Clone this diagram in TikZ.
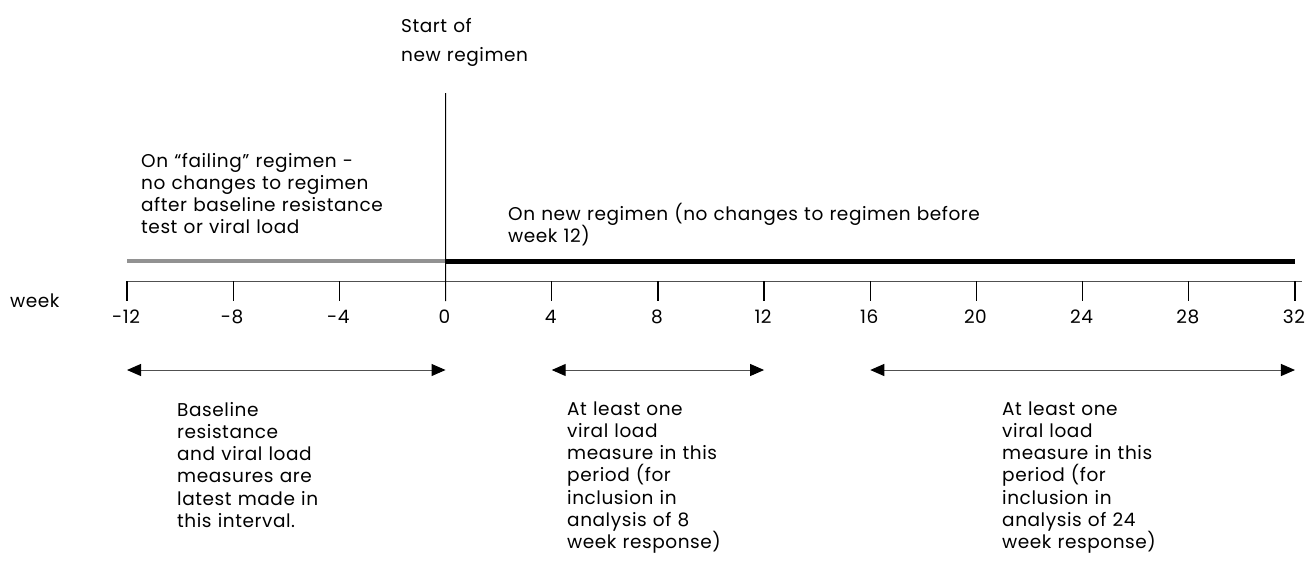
\documentclass[tikz,border=0pt]{standalone}
\usepackage{fontspec}
\setmainfont{Poppins}[LetterSpace=3]
\usetikzlibrary{arrows.meta}
\definecolor{bargray}{HTML}{929292}
\definecolor{axisgray}{HTML}{505050}
\begin{document}
\begin{tikzpicture}[x=1pt,y=-1pt,
  txt/.style={font=\fontsize{18.5}{22.3}\selectfont, inner sep=0pt, anchor=base west, align=left, text width=330pt},
  num/.style={font=\fontsize{18.5}{22.3}\selectfont, inner sep=0pt, anchor=base},
  tick/.style={line width=1.3pt, black},
  span/.style={line width=1pt, axisgray, {Triangle[length=14pt,width=12pt,fill=black,color=black]}-{Triangle[length=14pt,width=12pt,fill=black,color=black]}}
]
\useasboundingbox (0,0) rectangle (1308,560);
% tick coordinates
\foreach \w in {-12,-8,...,32} {
  \coordinate (t\w) at ({127+(\w+12)*26.545},281);
}
\coordinate (axisend) at (1302,281);
\coordinate (vtop) at (445.5,93);
% axis
\draw[line width=1pt, axisgray] (t-12) -- (axisend);
\foreach \w in {-12,-8,...,32} {
  \draw[tick] (t\w) -- ++(0,20);
  \node[num] (l\w) at ([shift={(-1,42)}]t\w) {\w};
}
% regimen bars
\draw[line width=4.5pt, bargray] ([shift={(0,-20)}]t-12) -- ([shift={(0,-20)}]t0);
\draw[line width=5pt, black] ([shift={(0,-20)}]t0) -- ([shift={(0,-20)}]t32);
% start line
\draw[line width=1pt, black] (vtop) -- ([shift={(0,20)}]t0);
% texts
\node[txt, text width=200pt, font=\fontsize{18.5}{29}\selectfont] (start) at (401,32) {Start of\\new regimen};
\node[txt] (failing) at (141,167) {On “failing” regimen -\\no changes to regimen\\after baseline resistance\\test or viral load};
\node[txt, text width=640pt] (newreg) at (508,220) {On new regimen (no changes to regimen before\\week 12)};
\node[font=\fontsize{18.5}{22.3}\selectfont, inner sep=0pt, anchor=base west] (week) at (10,307) {week};
% spans
\draw[span] ([shift={(0,89)}]t-12) -- ([shift={(0,89)}]t0);
\draw[span] ([shift={(0,89)}]t4) -- ([shift={(0,89)}]t12);
\draw[span] ([shift={(0,89)}]t16) -- ([shift={(0,89)}]t32);
\node[txt, text width=170pt] (base) at (177,416) {Baseline\\resistance\\and viral load\\measures are\\latest made in\\this interval.};
\node[txt, text width=170pt] (eight) at (567,415) {At least one\\viral load\\measure in this\\period (for\\inclusion in\\analysis of 8\\week response)};
\node[txt, text width=170pt] (twentyfour) at (1002,415) {At least one\\viral load\\measure in this\\period (for\\inclusion in\\analysis of 24\\week response)};
\end{tikzpicture}
\end{document}
